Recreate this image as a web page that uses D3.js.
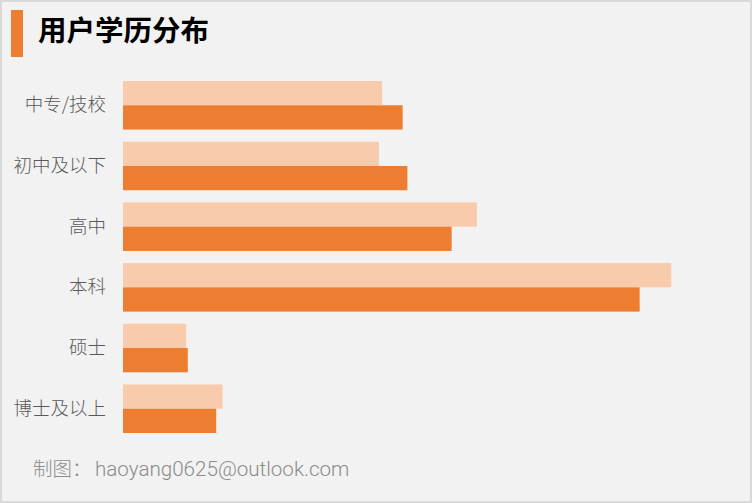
<!DOCTYPE html>
<html>
<head>
<meta charset="utf-8">
<script src="https://cdn.jsdelivr.net/npm/d3@7"></script>
<style>
  body { margin: 0; background: #f2f2f2; }
  svg { display: block; font-family: "Noto Sans CJK SC", "Noto Sans", sans-serif; }
</style>
</head>
<body>
<div id="chart"></div>
<script>
const width = 752
const height = 503

// data (percent)
const categories = ["中专/技校", "初中及以下", "高中", "本科", "硕士", "博士及以上"]
const seriesLight = [16.4, 16.2, 22.4, 34.7, 4.0, 6.3]
const seriesDark = [17.7, 18.0, 20.8, 32.7, 4.1, 5.9]
const title = "用户学历分布"
const footer = "制图：haoyang0625@outlook.com"

const svg = d3.select("#chart").append("svg")
    .attr("width", width).attr("height", height)

svg.append("rect")
    .attr("x", 1).attr("y", 1)
    .attr("width", width - 2).attr("height", height - 2)
    .attr("fill", "#f2f2f2")
    .attr("stroke", "#d9d9d9").attr("stroke-width", 2)

// title
svg.append("rect").attr("x", 11).attr("y", 10).attr("width", 12).attr("height", 47).attr("fill", "#ed7d31")
svg.append("text")
    .attr("x", 38).attr("y", 41)
    .attr("font-size", 28.5).attr("font-weight", "bold")
    .attr("fill", "#000")
    .text(title)

const x = d3.scaleLinear().domain([0, 35]).range([123, 123 + 35 * 15.8])
const y = d3.scaleBand().domain(categories).range([81, 433]).paddingInner(0.2).paddingOuter(0)
const sub = d3.scaleBand().domain(["light", "dark"]).range([0, y.bandwidth()])
const colors = { light: "#f8cbad", dark: "#ed7d31" }

const rows = categories.map((c, i) => ({ cat: c, light: seriesLight[i], dark: seriesDark[i] }))

const groups = svg.append("g").selectAll("g")
    .data(rows)
    .join("g")
    .attr("transform", d => `translate(0,${y(d.cat)})`)

groups.selectAll("rect")
    .data(d => ["light", "dark"].map(k => ({ key: k, value: d[k] })))
    .join("rect")
    .attr("x", x(0))
    .attr("y", d => sub(d.key))
    .attr("width", d => x(d.value) - x(0))
    .attr("height", sub.bandwidth())
    .attr("fill", d => colors[d.key])

// category axis, no line or ticks
const yAxis = svg.append("g")
    .attr("transform", `translate(${x(0) - 17},0)`)
    .call(d3.axisLeft(y).tickSize(0).tickPadding(0))
yAxis.select(".domain").remove()
yAxis.selectAll("text")
    .attr("font-size", 18.5)
    .attr("font-weight", 300)
    .attr("fill", "#595959")
    .attr("font-family", "Noto Sans CJK SC, sans-serif")

// footer: chinese part + latin part
const [fHead, fTail] = footer.split("：")
const ft = svg.append("text")
    .attr("y", 476)
    .attr("font-weight", 300)
    .attr("fill", "#8c8c8c")
ft.append("tspan").attr("x", 33).attr("font-size", 19.5)
    .attr("font-family", "Noto Sans CJK SC, sans-serif")
    .text(fHead + "：")
ft.append("tspan").attr("x", 95).attr("font-size", 20.6)
    .attr("font-family", "Roboto, sans-serif")
    .text(fTail)
</script>
</body>
</html>
